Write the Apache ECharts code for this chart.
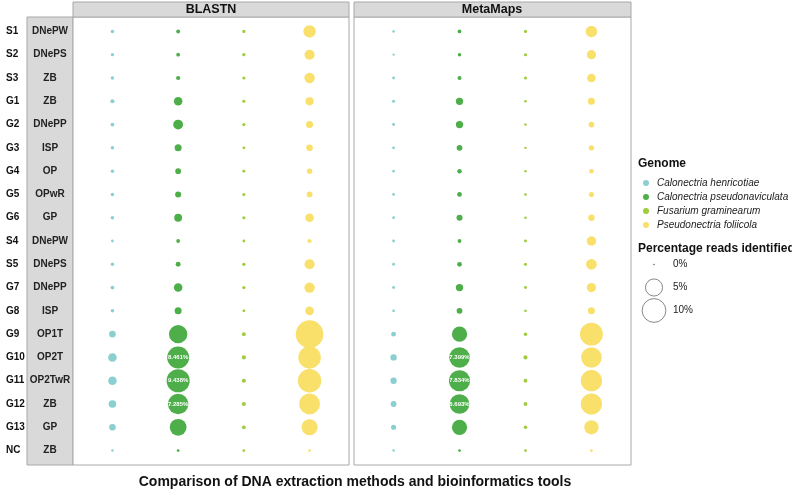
<!DOCTYPE html>
<html>
<head>
<meta charset="utf-8">
<script src="https://cdn.jsdelivr.net/npm/echarts@6/dist/echarts.min.js"></script>
<style>
  html, body { margin: 0; padding: 0; background: #fff; }
  #main { width: 792px; height: 490px; }
</style>
</head>
<body>
<div id="main"></div>
<script>
// row labels (sample / extraction method)
var samples = ['S1','S2','S3','G1','G2','G3','G4','G5','G6','S4','S5','G7','G8','G9','G10','G11','G12','G13','NC'];
var methods = ['DNePW','DNePS','ZB','ZB','DNePP','ISP','OP','OPwR','GP','DNePW','DNePS','DNePP','ISP','OP1T','OP2T','OP2TwR','ZB','GP','ZB'];
var genomes = ['Calonectria henricotiae','Calonectria pseudonaviculata','Fusarium graminearum','Pseudonectria foliicola'];
var tools = ['BLASTN','MetaMaps'];
var sizeKeys = ['0%','5%','10%'];
var sizeVals = [0, 5, 10];

// percentage reads identified, one value per row
var blastHen = [0.12,0.10,0.12,0.19,0.15,0.12,0.12,0.12,0.12,0.06,0.12,0.15,0.12,0.60,1.10,1.10,0.85,0.60,0.04];
var blastPse = [0.16,0.15,0.20,1.10,1.50,0.70,0.43,0.50,0.90,0.15,0.30,1.10,0.70,5.80,8.461,9.438,7.285,4.80,0.06];
var blastFus = [0.10,0.10,0.09,0.09,0.09,0.07,0.07,0.08,0.09,0.06,0.10,0.09,0.07,0.15,0.19,0.19,0.19,0.15,0.06];
var blastFol = [2.50,1.60,1.70,1.00,0.70,0.60,0.35,0.43,1.10,0.20,1.60,1.70,1.10,13.6,8.90,9.70,7.60,4.40,0.06];

var metaHen = [0.05,0.03,0.07,0.08,0.07,0.07,0.05,0.06,0.06,0.06,0.07,0.07,0.06,0.28,0.55,0.55,0.45,0.33,0.04];
var metaPse = [0.15,0.12,0.18,0.77,0.77,0.43,0.24,0.28,0.50,0.15,0.28,0.77,0.43,3.90,7.399,7.834,6.693,3.90,0.06];
var metaFus = [0.09,0.09,0.08,0.05,0.04,0.04,0.04,0.05,0.05,0.07,0.08,0.07,0.05,0.12,0.19,0.15,0.15,0.12,0.06];
var metaFol = [2.10,1.30,1.10,0.70,0.43,0.38,0.24,0.32,0.56,1.40,1.85,1.30,0.70,9.20,7.40,7.90,7.90,3.40,0.06];

// rows whose value is printed inside the bubble
var labelRows = [14, 15, 16];

var colors = ['#8bcfd0', '#4dae4a', '#9fcb3c', '#f8e06b'];
var FONT = 'Liberation Sans, Arial, sans-serif';

function bubbleSize(v) {
  return 1 + 7.2 * Math.sqrt(v);
}

function makeData(col, vals, showLabel) {
  return vals.map(function (v, i) {
    var d = { value: [col, i, v] };
    if (showLabel && labelRows.indexOf(i) >= 0) {
      d.label = {
        show: true, position: 'inside', color: '#fff', fontSize: 6, fontWeight: 'bold',
        fontFamily: FONT,
        formatter: function (p) { return p.value[2].toFixed(3) + '%'; }
      };
    }
    return d;
  });
}

var toolData = [
  [blastHen, blastPse, blastFus, blastFol],
  [metaHen, metaPse, metaFus, metaFol]
];

var series = [];
toolData.forEach(function (set, g) {
  set.forEach(function (vals, k) {
    series.push({
      name: genomes[k],
      type: 'scatter',
      xAxisIndex: g,
      yAxisIndex: g,
      data: makeData(k, vals, k === 1),
      symbolSize: function (d) { return bubbleSize(d[2]); },
      itemStyle: { color: colors[k], opacity: 1 },
      emphasis: { disabled: true },
      silent: true
    });
  });
});

// size key
series.push({
  name: 'size',
  type: 'scatter',
  xAxisIndex: 2,
  yAxisIndex: 2,
  data: sizeVals.map(function (v, i) { return [0, sizeKeys[i], v]; }),
  symbolSize: function (d) { return bubbleSize(d[2]); },
  itemStyle: { color: '#fff', borderColor: '#444', borderWidth: 0.8 },
  silent: true
});

var rowIdx = samples.map(function (s, i) { return i; });

function yAx(grid, labels) {
  return {
    type: 'value', gridIndex: grid, min: -0.62, max: 18.62, inverse: true,
    axisLine: { show: false }, axisTick: { show: false }, splitLine: { show: false },
    axisLabel: labels ? {
      show: true, customValues: rowIdx, margin: 0,
      formatter: function (v) {
        return '{a|' + samples[v] + '}{b|' + methods[v] + '}';
      },
      rich: {
        a: { width: 21, align: 'left', fontSize: 10, fontWeight: 'bold', color: '#111', fontFamily: FONT },
        b: { width: 46, align: 'center', fontSize: 10, fontWeight: 'bold', color: '#222', fontFamily: FONT }
      }
    } : { show: false }
  };
}

function xAx(grid) {
  return {
    type: 'value', gridIndex: grid, min: -0.6, max: 3.6,
    axisLine: { show: false }, axisTick: { show: false }, splitLine: { show: false },
    axisLabel: { show: false }
  };
}

var chart = echarts.init(document.getElementById('main'));
chart.setOption({
  backgroundColor: '#fff',
  animation: false,
  title: {
    text: 'Comparison of DNA extraction methods and bioinformatics tools',
    left: 350, top: 470, textAlign: 'center',
    textStyle: { fontSize: 14, fontWeight: 'bold', color: '#111', fontFamily: FONT }
  },
  legend: {
    data: genomes,
    orient: 'vertical', left: 638, top: 172,
    icon: 'circle', itemWidth: 6, itemHeight: 6, itemGap: 2,
    selectedMode: false,
    textStyle: { fontSize: 10, fontStyle: 'italic', color: '#222', lineHeight: 12, padding: [0, 0, 0, 3], fontFamily: FONT }
  },
  grid: [
    { left: 73, top: 17, width: 276, height: 448, show: true, borderColor: '#a8a8a8', borderWidth: 1, backgroundColor: '#fff' },
    { left: 354, top: 17, width: 277, height: 448, show: true, borderColor: '#a8a8a8', borderWidth: 1, backgroundColor: '#fff' },
    { left: 641, top: 253, width: 26, height: 69 }
  ],
  xAxis: [xAx(0), xAx(1), {
    type: 'value', gridIndex: 2, min: -1, max: 1, show: false
  }],
  yAxis: [yAx(0, true), yAx(1, false), {
    type: 'category', gridIndex: 2, data: sizeKeys, inverse: true, position: 'right',
    axisLine: { show: false }, axisTick: { show: false },
    axisLabel: { margin: 6, fontSize: 10, color: '#222', fontFamily: FONT }
  }],
  graphic: [
    { type: 'rect', shape: { x: 27, y: 17, width: 46, height: 448 }, style: { fill: '#d9d9d9', stroke: '#a8a8a8', lineWidth: 1 }, z: -1 },
    { type: 'rect', shape: { x: 73, y: 2, width: 276, height: 15 }, style: { fill: '#d9d9d9', stroke: '#a8a8a8', lineWidth: 1 } },
    { type: 'rect', shape: { x: 354, y: 2, width: 277, height: 15 }, style: { fill: '#d9d9d9', stroke: '#a8a8a8', lineWidth: 1 } },
    { type: 'text', x: 211, y: 10, style: { text: tools[0], fill: '#111', font: 'bold 12.5px ' + FONT, textAlign: 'center', textVerticalAlign: 'middle' } },
    { type: 'text', x: 492, y: 10, style: { text: tools[1], fill: '#111', font: 'bold 12.5px ' + FONT, textAlign: 'center', textVerticalAlign: 'middle' } },
    { type: 'text', x: 638, y: 164, style: { text: 'Genome', fill: '#111', font: 'bold 12px ' + FONT, textVerticalAlign: 'middle' } },
    { type: 'text', x: 638, y: 249, style: { text: 'Percentage reads identified', fill: '#111', font: 'bold 12px ' + FONT, textVerticalAlign: 'middle' } }
  ],
  series: series
});
</script>
</body>
</html>
